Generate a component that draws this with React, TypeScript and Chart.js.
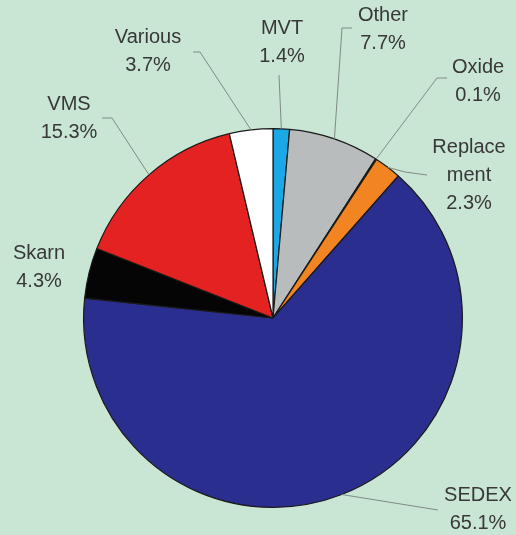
import React, { useEffect, useRef } from "react";
import { Chart, registerables } from "chart.js";

Chart.register(...registerables);

const categories = ["MVT", "Other", "Oxide", "Replacement", "SEDEX", "Skarn", "VMS", "Various"];
const values = [1.4, 7.7, 0.1, 2.3, 65.1, 4.3, 15.3, 3.7];
const labelLines = [
  ["MVT", "1.4%"],
  ["Other", "7.7%"],
  ["Oxide", "0.1%"],
  ["Replace", "ment", "2.3%"],
  ["SEDEX", "65.1%"],
  ["Skarn", "4.3%"],
  ["VMS", "15.3%"],
  ["Various", "3.7%"],
];
const colors = ["#1aa8e6", "#b9bcbc", "#e8d040", "#f28522", "#2a2f8f", "#050505", "#e52222", "#ffffff"];

// label placement relative to pie centre (text centre of first line) and leader elbow points
const labelLayout = [
  { dx: 9, dy: -290, leader: [[6, -243]] },
  { dx: 110, dy: -303, leader: [[69, -290], [79, -290]] },
  { dx: 205, dy: -251, leader: [[164, -240], [174, -240]] },
  { dx: 196, dy: -171, leader: [[132, -146], [154, -143]] },
  { dx: 205, dy: 177, leader: [[165, 192]] },
  { dx: -234, dy: -65, leader: [] as number[][] },
  { dx: -204, dy: -214, leader: [[-161, -200], [-171, -200]] },
  { dx: -125, dy: -281, leader: [[-73, -266], [-80, -266]] },
];

const BG = "#c8e6d3";

const labelPlugin = {
  id: "outerLabels",
  afterDatasetsDraw(chart: any) {
    const ctx = chart.ctx;
    const meta = chart.getDatasetMeta(0);
    ctx.save();
    meta.data.forEach((arc: any, i: number) => {
      const { x, y, startAngle, endAngle, outerRadius } = arc.getProps(
        ["x", "y", "startAngle", "endAngle", "outerRadius"],
        true
      );
      const mid = (startAngle + endAngle) / 2;
      const sx = x + Math.cos(mid) * outerRadius;
      const sy = y + Math.sin(mid) * outerRadius;
      const lay = labelLayout[i];
      if (lay.leader.length) {
        ctx.beginPath();
        ctx.strokeStyle = "#7d8c84";
        ctx.lineWidth = 1;
        ctx.moveTo(sx, sy);
        lay.leader.forEach((p) => ctx.lineTo(x + p[0], y + p[1]));
        ctx.stroke();
      }
      ctx.fillStyle = "#383838";
      ctx.font = "20px 'Liberation Sans', Arial, sans-serif";
      ctx.textAlign = "center";
      ctx.textBaseline = "middle";
      labelLines[i].forEach((t, k) => {
        ctx.fillText(t, x + lay.dx, y + lay.dy + k * 28);
      });
    });
    ctx.restore();
  },
};

export default function App() {
  const ref = useRef<HTMLCanvasElement | null>(null);
  useEffect(() => {
    document.body.style.margin = "0";
    document.body.style.background = BG;
    const chart = new Chart(ref.current as HTMLCanvasElement, {
      type: "pie",
      data: {
        labels: categories,
        datasets: [
          {
            data: values,
            backgroundColor: colors,
            borderColor: "#1a1a1a",
            borderWidth: 1.2,
          },
        ],
      },
      options: {
        animation: false,
        responsive: false,
        maintainAspectRatio: false,
        layout: { padding: { left: 83, right: 53, top: 128, bottom: 27 } },
        plugins: {
          legend: { display: false },
          tooltip: { enabled: false },
        },
      },
      plugins: [labelPlugin],
    });
    return () => chart.destroy();
  }, []);
  return (
    <div style={{ width: 516, height: 535, background: BG }}>
      <canvas ref={ref} width={516} height={535} style={{ display: "block" }} />
    </div>
  );
}
